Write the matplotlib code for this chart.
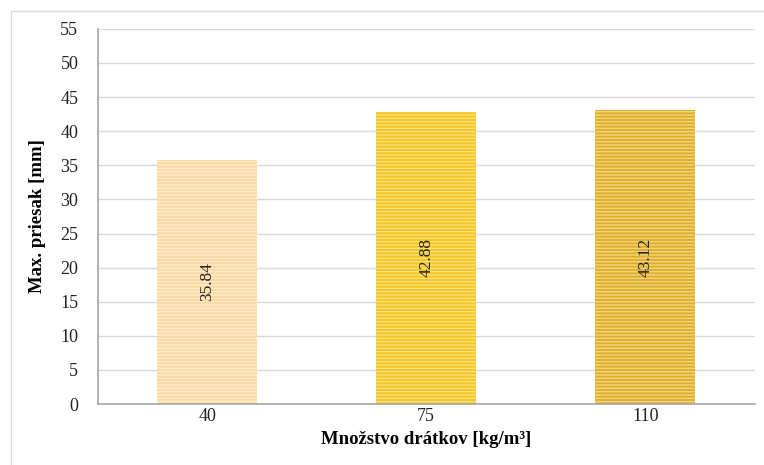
import matplotlib.pyplot as plt
from matplotlib.patches import Rectangle

plt.rcParams["font.family"] = ["Liberation Serif", "DejaVu Serif"]
plt.rcParams["hatch.linewidth"] = 1.0

# Fibre dosage and maximum deflection
dosages = ["40", "75", "110"]
deflection = [35.84, 42.88, 43.12]
bar_colors = ["#fcd9a1", "#f8c61e", "#dfb02c"]
stripe_colors = ["#fdeccb", "#fce184", "#f2d47e"]

y_ticks = list(range(0, 56, 5))

fig = plt.figure(figsize=(7.64, 4.65), dpi=100)
ax = fig.add_axes([0.128, 0.131, 0.86, 0.807])

# chart border, running off the right and bottom edges
fig.patches.append(Rectangle((11 / 764, -0.05), 1.0, 1.05 - 11 / 465,
                             transform=fig.transFigure, fill=False,
                             edgecolor="#d9d9d9", linewidth=1.0))

x = range(len(dosages))
bars = ax.bar(x, deflection, width=0.456, color=bar_colors,
              linewidth=0, hatch="-----", zorder=2)
for bar, sc in zip(bars, stripe_colors):
    bar.set_edgecolor(sc)
    bar.set_linewidth(0)

for xi, v in zip(x, deflection):
    ax.text(xi, v / 2, f"{v:.2f}", rotation=90, ha="center", va="center",
            fontsize=12.5, color="#222222", zorder=3)

ax.set_xlim(-0.5, 2.5)
ax.set_ylim(0, 55)
ax.set_yticks(y_ticks)
ax.set_xticks(list(x))
ax.set_xticklabels(dosages)
ax.yaxis.grid(True, color="#d9d9d9", linewidth=1.0, zorder=0)
ax.set_axisbelow(True)

for side in ["top", "right"]:
    ax.spines[side].set_visible(False)
for side in ["left", "bottom"]:
    ax.spines[side].set_color("#a6a6a6")
    ax.spines[side].set_linewidth(1.2)

ax.tick_params(axis="both", length=0, labelsize=13, colors="#222222")
ax.tick_params(axis="y", pad=14)
ax.tick_params(axis="x", pad=3)

ax.set_ylabel("Max. priesak [mm]", fontsize=13.5, fontweight="bold", labelpad=10)
ax.set_xlabel("Množstvo drátkov [kg/m³]", fontsize=13.5, fontweight="bold", labelpad=4)

fig.savefig("out.png", dpi=100)
